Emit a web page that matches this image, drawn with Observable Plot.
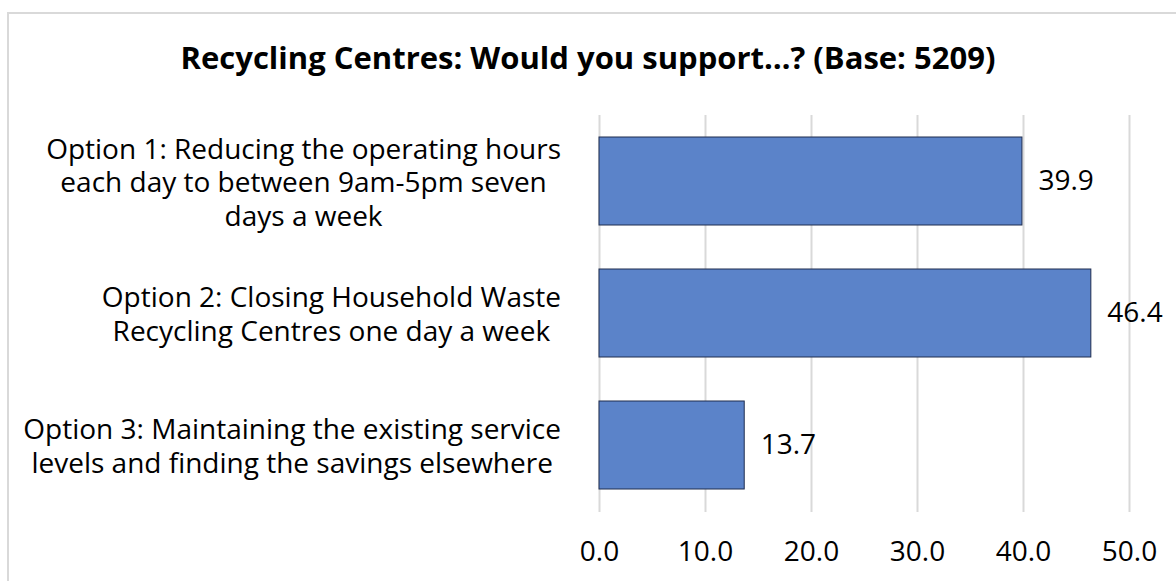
<!DOCTYPE html>
<html>
<head>
<meta charset="utf-8">
<script src="https://cdn.jsdelivr.net/npm/d3@7"></script>
<script src="https://cdn.jsdelivr.net/npm/@observablehq/plot@0.6"></script>
<style>
  html, body { margin: 0; padding: 0; background: #fff; }
  #wrap { position: relative; width: 1176px; height: 581px; overflow: hidden; background: #fff; }
  #frame { position: absolute; left: 7px; top: 12px; width: 1300px; height: 700px; border: 2px solid #d9d9d9; box-sizing: border-box; pointer-events: none; }
  #title { position: relative; height: 88px; box-sizing: border-box; padding-top: 40px; line-height: 34px; text-align: center; font-family: "Open Sans", sans-serif; font-weight: bold; font-size: 31px; color: #000; }
  #chart { position: relative; }
</style>
</head>
<body>
<div id="wrap">
  <div id="frame"></div>
  <div id="title">Recycling Centres: Would you support…? (Base: 5209)</div>
  <div id="chart"></div>
</div>
<script>
const categories = [
  "Option 1: Reducing the operating hours\neach day to between 9am-5pm seven\ndays a week",
  "Option 2: Closing Household Waste\nRecycling Centres one day a week",
  "Option 3: Maintaining the existing service\nlevels and finding the savings elsewhere"
];
const values = [39.9, 46.4, 13.7];
const xTicks = [0, 10, 20, 30, 40, 50];

const data = categories.map((c, i) => ({category: c, value: values[i]}));

const chart = Plot.plot({
  width: 1176,
  height: 493,
  marginTop: 27,
  marginBottom: 69,
  marginLeft: 599,
  marginRight: 47,
  style: {fontFamily: "'Open Sans', sans-serif", fontSize: "28px", color: "#000", background: "transparent", overflow: "visible"},
  x: {domain: [0, 50], ticks: xTicks, label: null},
  y: {domain: categories, paddingInner: 0.333, paddingOuter: 0.1667, label: null},
  marks: [
    Plot.gridX(xTicks, {stroke: "#d9d9d9", strokeOpacity: 1, strokeWidth: 2}),
    Plot.barX(data, {x: "value", y: "category", fill: "#5b83c9", stroke: "#1f2d4f", strokeWidth: 1}),
    Plot.text(data, {x: "value", y: "category", text: d => d.value.toFixed(1), textAnchor: "start", dx: 16, fill: "#000"}),
    Plot.axisX({ticks: xTicks, tickSize: 0, tickPadding: 29, tickFormat: d => d.toFixed(1), fill: "#000", label: null}),
    Plot.axisY({tickSize: 0, tickPadding: 38, textAnchor: "middle", lineHeight: 1.2, fill: "#000", label: null})
  ]
});
document.getElementById("chart").appendChild(chart);

// right-align each centred multi-line label block against the plot's left edge
const svgRect = chart.getBoundingClientRect();
const labelRight = svgRect.left + 599 - 38;
chart.querySelectorAll('g[aria-label="y-axis tick label"] text').forEach(t => {
  const r = t.getBoundingClientRect();
  const shift = labelRight - r.right;
  const tr = t.getAttribute("transform") || "";
  t.setAttribute("transform", tr + ` translate(${shift},0)`);
});
</script>
</body>
</html>
